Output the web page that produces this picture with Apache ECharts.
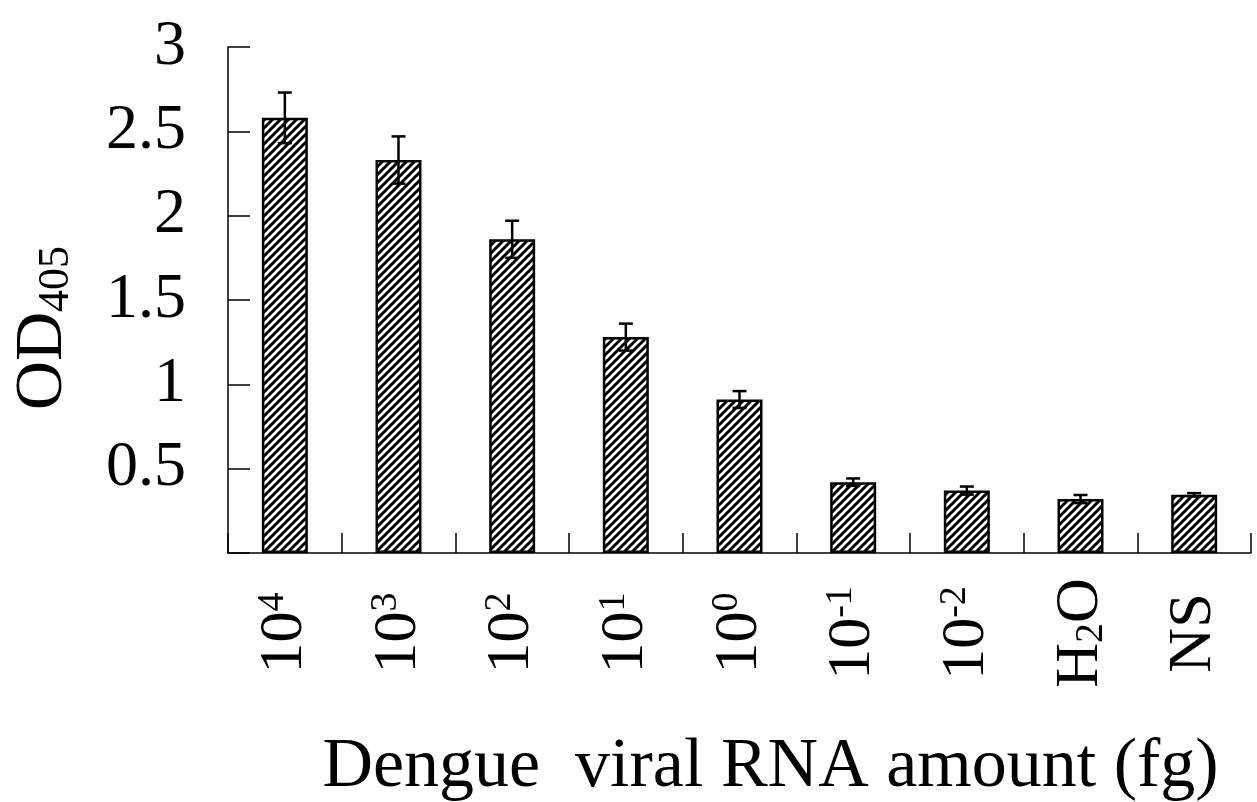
<!DOCTYPE html>
<html>
<head>
<meta charset="utf-8">
<title>OD405 vs Dengue viral RNA amount</title>
<script src="https://cdn.jsdelivr.net/npm/echarts@6.0.0/dist/echarts.min.js"></script>
<style>
  html, body {
    margin: 0;
    padding: 0;
    background: #ffffff;
  }
  #chart {
    width: 1257px;
    height: 802px;
  }
</style>
</head>
<body>
<div id="chart"></div>
<script>
  // categories: ^ = superscript, _ = subscript
  const categories = ['10^4', '10^3', '10^2', '10^1', '10^0', '10^-1', '10^-2', 'H_2O', 'NS']
  const odMeans = [2.58, 2.33, 1.86, 1.28, 0.91, 0.42, 0.37, 0.32, 0.345]
  const odErrors = [0.15, 0.14, 0.11, 0.08, 0.05, 0.022, 0.024, 0.024, 0.01]
  const yTicks = [0, 0.5, 1, 1.5, 2, 2.5, 3]

  const serif = '"Liberation Serif", "Times New Roman", serif'
  const blackLine = { color: '#000', width: 1.5 }

  // hatch fill for the bars
  function makeHatch () {
    let size = 8
    let cv = document.createElement('canvas')
    cv.width = size
    cv.height = size
    let ctx = cv.getContext('2d')
    ctx.fillStyle = '#ffffff'
    ctx.fillRect(0, 0, size, size)
    ctx.strokeStyle = '#000000'
    ctx.lineWidth = 3
    ctx.beginPath()
    ctx.moveTo(-1, size + 1)
    ctx.lineTo(size + 1, -1)
    ctx.moveTo(-2, 2)
    ctx.lineTo(2, -2)
    ctx.moveTo(size - 2, size + 2)
    ctx.lineTo(size + 2, size - 2)
    ctx.stroke()
    return cv
  }

  function fmtCategory (s) {
    return s.replace(/\^(\S+)$/, '{sup|$1}').replace(/_(\d)/, '{sub|$1}')
  }

  let chart = echarts.init(document.getElementById('chart'))
  let option = {
    backgroundColor: '#ffffff',
    animation: false,
    grid: {
      left: 228,
      right: 6,
      top: 47,
      bottom: 249,
      containLabel: false,
      outerBoundsMode: 'none'
    },
    xAxis: {
      type: 'category',
      data: categories,
      name: 'Dengue  viral RNA amount (fg)',
      nameLocation: 'middle',
      nameGap: 180,
      nameTextStyle: {
        fontFamily: serif,
        fontSize: 70,
        color: '#000',
        padding: [0, 0, 0, 62]
      },
      axisLine: { lineStyle: blackLine },
      axisTick: {
        show: true,
        inside: true,
        length: 20,
        lineStyle: blackLine
      },
      axisLabel: {
        rotate: 90,
        margin: 80,
        align: 'center',
        verticalAlign: 'middle',
        fontFamily: serif,
        fontSize: 62,
        lineHeight: 62,
        color: '#000',
        formatter: fmtCategory,
        rich: {
          sup: {
            fontFamily: serif,
            fontSize: 38,
            verticalAlign: 'top',
            lineHeight: 62,
            color: '#000'
          },
          sub: {
            fontFamily: serif,
            fontSize: 40,
            verticalAlign: 'bottom',
            lineHeight: 62,
            color: '#000'
          }
        }
      }
    },
    yAxis: {
      type: 'value',
      min: yTicks[0],
      max: yTicks[yTicks.length - 1],
      interval: 0.5,
      name: 'OD{sub|405}',
      nameLocation: 'middle',
      nameRotate: 90,
      nameGap: 150,
      nameTextStyle: {
        fontFamily: serif,
        fontSize: 68,
        color: '#000',
        lineHeight: 70,
        padding: [0, 56, 0, 0],
        rich: {
          sub: {
            fontFamily: serif,
            fontSize: 44,
            verticalAlign: 'bottom',
            lineHeight: 70,
            color: '#000'
          }
        }
      },
      splitLine: { show: false },
      axisLine: { show: true, lineStyle: blackLine },
      axisTick: {
        show: true,
        inside: true,
        length: 22,
        lineStyle: blackLine
      },
      axisLabel: {
        margin: 42,
        fontFamily: serif,
        fontSize: 64,
        color: '#000',
        padding: [0, 0, 16, 0],
        formatter: (v) => (v === 0 ? '' : String(v))
      }
    },
    series: [
      {
        name: 'OD405',
        type: 'bar',
        data: odMeans,
        barWidth: 46,
        itemStyle: {
          color: { image: makeHatch(), repeat: 'repeat' },
          borderColor: '#000',
          borderWidth: 2.5
        }
      },
      {
        name: 'error',
        type: 'custom',
        z: 10,
        data: odMeans.map((m, i) => [i, m, odErrors[i]]),
        renderItem: function (params, api) {
          let i = api.value(0)
          let m = api.value(1)
          let e = api.value(2)
          let top = api.coord([i, m + e])
          let bot = api.coord([i, m - e])
          let hw = 7
          let style = { stroke: '#000', lineWidth: 2.5 }
          return {
            type: 'group',
            children: [
              { type: 'line', shape: { x1: top[0], y1: top[1], x2: bot[0], y2: bot[1] }, style: style },
              { type: 'line', shape: { x1: top[0] - hw, y1: top[1], x2: top[0] + hw, y2: top[1] }, style: style },
              { type: 'line', shape: { x1: bot[0] - hw, y1: bot[1], x2: bot[0] + hw, y2: bot[1] }, style: style }
            ]
          }
        }
      }
    ]
  }
  chart.setOption(option)
</script>
</body>
</html>
